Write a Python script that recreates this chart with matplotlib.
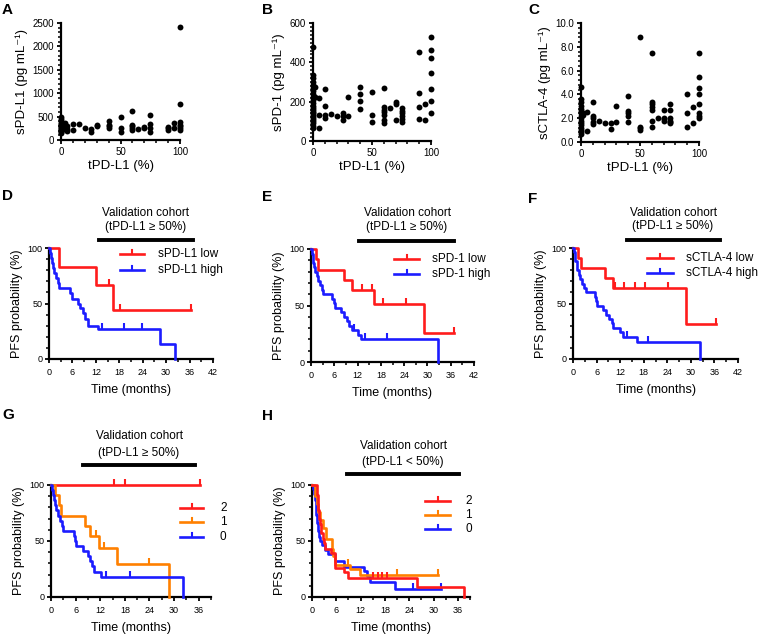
import matplotlib
matplotlib.use('Agg')
import matplotlib.pyplot as plt
from matplotlib.lines import Line2D
from matplotlib.ticker import MultipleLocator, FormatStrFormatter
import numpy as np

plt.rcParams['font.family'] = ['Liberation Sans', 'DejaVu Sans']

# ---------------- scatter data ----------------
a_x = [0]*14 + [1, 2, 3, 3, 5, 5, 5, 10, 10, 15, 20, 25, 25, 30, 30, 40, 40, 40, 40,
                50, 50, 50, 60, 60, 60, 60, 60, 65, 70, 70, 75, 75, 75, 75, 90, 90, 90,
                95, 95, 100, 100, 100, 100, 100, 100, 100]
a_y = [500, 450, 400, 370, 340, 310, 290, 270, 250, 230, 210, 190, 170, 150,
       320, 280, 360, 230, 300, 240, 200, 350, 210, 340, 260, 240, 180, 330, 290,
       400, 330, 290, 250, 490, 250, 180, 610, 330, 290, 250, 220, 240, 280, 250,
       540, 350, 250, 180, 280, 250, 220, 360, 250, 2410, 760, 390, 330, 290, 250, 215]

b_x = [0]*23 + [2, 2, 5, 5, 5, 10, 10, 10, 10, 15, 20, 25, 25, 25, 30, 30, 40, 40, 40, 40,
                50, 50, 50, 60, 60, 60, 60, 60, 60, 60, 65, 70, 70, 70, 75, 75, 75, 75, 75, 75,
                90, 90, 90, 90, 95, 95, 100, 100, 100, 100, 100, 100, 100]
b_y = [480, 335, 320, 300, 285, 270, 255, 240, 225, 210, 195, 180, 170, 160, 150, 140,
       130, 120, 110, 100, 90, 75, 65, 275, 225, 220, 130, 65, 265, 180, 130, 115, 135,
       125, 140, 125, 105, 225, 125, 275, 240, 205, 165, 250, 130, 95, 270, 175, 160,
       145, 130, 105, 90, 170, 200, 190, 105, 170, 155, 140, 125, 110, 95, 450, 245,
       175, 110, 190, 105, 530, 465, 420, 345, 265, 205, 140]

c_x = [0]*16 + [2, 2, 5, 5, 10, 10, 10, 10, 10, 15, 20, 25, 25, 30, 30, 40, 40, 40, 40, 40,
                50, 50, 50, 50, 60, 60, 60, 60, 60, 60, 60, 65, 70, 70, 70, 70, 75, 75, 75, 75,
                75, 75, 90, 90, 90, 95, 95, 100, 100, 100, 100, 100, 100, 100, 100]
c_y = [4.6, 3.6, 3.4, 3.0, 2.8, 2.6, 2.4, 2.2, 2.0, 1.8, 1.6, 1.4, 1.2, 1.0, 0.8, 0.7,
       2.4, 2.3, 2.5, 0.9, 3.4, 2.2, 2.0, 1.7, 1.5, 1.8, 1.6, 1.6, 1.1, 3.0, 1.7,
       3.9, 2.6, 2.4, 2.2, 1.7, 8.8, 1.3, 1.2, 1.0, 7.5, 3.4, 3.2, 2.9, 2.7, 1.8, 1.3,
       2.0, 2.7, 2.0, 1.9, 1.8, 3.2, 2.7, 2.0, 1.8, 1.7, 1.6, 4.0, 2.4, 1.3, 2.9, 1.6,
       7.5, 5.5, 4.5, 4.0, 3.2, 2.4, 2.2, 2.0]

# ---------------- Kaplan-Meier data (event times, survival after event, censor times) ----------------
d_low_t = [2.5, 12.0, 16.4]
d_low_s = [83.3, 66.7, 44.4]
d_low_c = [15.3, 18.2, 36.3]
d_high_t = [0.2, 0.5, 0.8, 1.1, 1.4, 1.8, 2.2, 2.6, 5.3, 5.9, 7.4, 7.9, 8.6, 9.2, 9.9, 12.5, 28.5, 32.2]
d_high_s = [95.5, 90.9, 86.4, 81.8, 77.3, 72.7, 68.2, 63.6, 59.1, 54.5, 50.0, 46.0, 41.0, 36.0, 30.0, 26.7, 13.3, 0]
d_high_c = [13.6, 19.2, 23.8]

e_low_t = [1.3, 1.9, 8.6, 10.5, 16.2, 29.0]
e_low_s = [90.9, 81.8, 72.7, 63.6, 50.9, 25.5]
e_low_c = [13.2, 15.6, 18.6, 24.5, 36.8]
e_high_t = [0.2, 0.4, 0.6, 0.9, 1.1, 1.5, 1.9, 2.3, 2.8, 3.2, 5.5, 5.9, 6.2, 7.7, 8.6, 9.2, 9.8, 10.5, 12.2, 12.8, 32.8]
e_high_s = [96, 92, 88, 84, 80, 76, 72, 68, 64, 60, 56, 52, 48, 44, 40, 36, 32, 28, 24, 20, 0]
e_high_c = [11.2, 13.9, 19.5]

f_low_t = [1.3, 1.95, 8.2, 10.1, 28.7]
f_low_s = [90.9, 81.8, 72.7, 63.6, 31.8]
f_low_c = [10.6, 13.1, 15.7, 18.2, 24.2, 36.5]
f_high_t = [0.2, 0.4, 0.6, 0.9, 1.1, 1.5, 1.9, 2.3, 2.8, 3.2, 5.7, 5.9, 6.1, 7.6, 8.4, 9.2, 9.8, 10.2, 12.0, 12.7, 16.3, 32.4]
f_high_s = [96, 92, 88, 84, 80, 76, 72, 68, 64, 60, 56, 52, 48, 44, 40, 36, 32, 28, 24, 20, 15, 0]
f_high_c = [13.8, 19.2]

g2_t = []
g2_s = []
g2_c = [15.4, 18.1, 36.2]
g1_t = [1.0, 1.9, 2.5, 8.3, 9.5, 11.8, 16.2, 28.7]
g1_s = [90.9, 81.8, 72.7, 63.6, 54.5, 43.6, 29.1, 0]
g1_c = [10.9, 12.9, 23.8]
g0_t = [0.2, 0.4, 0.7, 1.0, 1.2, 1.6, 2.1, 2.6, 3.0, 5.6, 5.9, 6.1, 7.7, 8.9, 9.4, 9.9, 10.6, 12.3, 32.1]
g0_s = [95.5, 90.9, 86.4, 81.8, 77.3, 72.7, 68.2, 63.6, 59.1, 54.5, 50.0, 45.5, 40.9, 36.4, 31.8, 27.3, 22.7, 18.2, 0]
g0_c = [13.4, 19.2]

h2_t = [1.2, 1.4, 1.6, 1.8, 2.0, 2.3, 2.6, 3.0, 3.3, 4.7, 5.7, 7.8, 8.9, 26.0, 37.6]
h2_s = [91, 83, 78, 70, 65, 57, 52, 48, 43, 39, 26, 22, 17.4, 8.7, 0]
h2_c = [15.1, 16.4, 17.4, 18.4]
h1_t = [0.8, 1.2, 1.6, 2.0, 2.7, 3.5, 4.9, 5.3, 5.7, 9.4, 11.9]
h1_s = [90, 83, 76, 69, 62, 52, 43, 37, 29, 25, 19.4]
h1_c = [9.0, 20.9, 31.1]
h0_t = [0.3, 0.5, 0.7, 0.9, 1.1, 1.3, 1.5, 1.7, 2.0, 2.5, 3.2, 4.0, 5.7, 7.8, 12.8, 13.5, 14.2, 20.5]
h0_s = [96, 92, 87, 80, 73, 66, 59, 54, 50, 46, 42, 38, 32, 27, 23, 19, 13, 7.5]
h0_c = [25.0, 31.8]

RED = '#ff1c1c'
BLUE = '#1c1cff'
ORANGE = '#ff8000'

W, H = 767, 641
fig = plt.figure(figsize=(W / 100, H / 100), dpi=100)


def fx(x):
    return x / W


def fy(y):
    return 1 - y / H


def ax_px(left, top, width, height):
    return fig.add_axes([left / W, 1 - (top + height) / H, width / W, height / H])


def style_axes(ax):
    for s in ['top', 'right']:
        ax.spines[s].set_visible(False)
    for s in ['left', 'bottom']:
        ax.spines[s].set_linewidth(1.6)
    ax.tick_params(which='major', length=3.2, width=1.3, color='black')
    ax.tick_params(which='minor', length=2.0, width=1.1, color='black')


def scatter_panel(ax, xs, ys, ymax, ymaj, ymin, ylabel, fmt=None):
    style_axes(ax)
    ax.scatter(xs, ys, s=18, color='black', clip_on=False, zorder=3, linewidths=0)
    ax.set_xlim(0, 100)
    ax.set_ylim(0, ymax)
    ax.xaxis.set_major_locator(MultipleLocator(50))
    ax.xaxis.set_minor_locator(MultipleLocator(10))
    ax.yaxis.set_major_locator(MultipleLocator(ymaj))
    ax.yaxis.set_minor_locator(MultipleLocator(ymin))
    if fmt:
        ax.yaxis.set_major_formatter(FormatStrFormatter(fmt))
    ax.tick_params(labelsize=7, pad=2)
    ax.set_xlabel('tPD-L1 (%)', fontsize=9.5, labelpad=2)
    ax.set_ylabel(ylabel, fontsize=9.5, labelpad=3)


def km_curve(ax, times, surv, cens, color, end=None):
    t = [0] + list(times)
    s = [100] + list(surv)
    last = max([0] + list(times) + list(cens))
    if end is None:
        end = last
    if s[-1] > 0:
        t.append(end)
        s.append(s[-1])
    ax.step(t, s, where='post', color=color, lw=1.9, clip_on=False, zorder=3)
    if cens:
        ts = np.array([0] + list(times))
        ss = np.array([100] + list(surv))
        cy = [ss[np.searchsorted(ts, c, side='right') - 1] for c in cens]
        ax.plot(cens, cy, linestyle='none', marker=2, markersize=4.5, mew=1.5,
                color=color, clip_on=False, zorder=3)


def km_axes(ax, xmax, xmaj_max):
    style_axes(ax)
    ax.set_xlim(0, xmax)
    ax.set_ylim(0, 100)
    ax.set_xticks(np.arange(0, xmaj_max + 1, 6))
    ax.xaxis.set_minor_locator(MultipleLocator(3))
    ax.yaxis.set_major_locator(MultipleLocator(50))
    ax.yaxis.set_minor_locator(MultipleLocator(10))
    ax.tick_params(labelsize=6.5, pad=1.5)
    ax.tick_params(axis='x', pad=3)
    ax.set_xlabel('Time (months)', fontsize=9, labelpad=5)
    ax.set_ylabel('PFS probability (%)', fontsize=9, labelpad=3)


def cohort_title(cx, y1, y2, line2, bx0, bx1, by):
    fig.text(fx(cx), fy(y1), 'Validation cohort', ha='center', va='center', fontsize=8.5)
    fig.text(fx(cx), fy(y2), line2, ha='center', va='center', fontsize=8.5)
    fig.add_artist(Line2D([fx(bx0), fx(bx1)], [fy(by), fy(by)], color='black', lw=2.8,
                          transform=fig.transFigure))


def legend_entry(x0, x1, y, color, label, tx):
    fig.add_artist(Line2D([fx(x0), fx(x1)], [fy(y), fy(y)], color=color, lw=1.9,
                          transform=fig.transFigure))
    xm = (x0 + x1) / 2
    fig.add_artist(Line2D([fx(xm), fx(xm)], [fy(y), fy(y - 4.5)], color=color, lw=1.5,
                          transform=fig.transFigure))
    fig.text(fx(tx), fy(y), label, ha='left', va='center', fontsize=8.5)


# ---------------- Scatter panels ----------------
axA = ax_px(61, 23, 119, 117)
scatter_panel(axA, a_x, a_y, 2500, 500, 100, 'sPD-L1 (pg mL⁻¹)')
axB = ax_px(313, 23, 118, 118)
scatter_panel(axB, b_x, b_y, 600, 200, 20, 'sPD-1 (pg mL⁻¹)')
axC = ax_px(581, 23, 118, 119)
scatter_panel(axC, c_x, c_y, 10, 2, 0.4, 'sCTLA-4 (pg mL⁻¹)', fmt='%.1f')

# ---------------- KM panels ----------------
axD = ax_px(49, 248, 164, 111)
km_axes(axD, 42, 42)
km_curve(axD, d_low_t, d_low_s, d_low_c, RED)
km_curve(axD, d_high_t, d_high_s, d_high_c, BLUE)
cohort_title(146, 213, 227, '(tPD-L1 ≥ 50%)', 99, 193, 240)
legend_entry(120, 144, 254, RED, 'sPD-L1 low', 158)
legend_entry(120, 144, 270, BLUE, 'sPD-L1 high', 158)

axE = ax_px(311, 249, 163, 113)
km_axes(axE, 42, 42)
km_curve(axE, e_low_t, e_low_s, e_low_c, RED)
km_curve(axE, e_high_t, e_high_s, e_high_c, BLUE)
cohort_title(407, 213, 227, '(tPD-L1 ≥ 50%)', 359, 454, 241)
legend_entry(394, 419, 259, RED, 'sPD-1 low', 432)
legend_entry(394, 419, 274, BLUE, 'sPD-1 high', 432)

axF = ax_px(573, 248, 165, 111)
km_axes(axF, 42, 42)
km_curve(axF, f_low_t, f_low_s, f_low_c, RED)
km_curve(axF, f_high_t, f_high_s, f_high_c, BLUE)
cohort_title(673, 213, 226, '(tPD-L1 ≥ 50%)', 627, 720, 240)
legend_entry(647, 673, 258, RED, 'sCTLA-4 low', 686)
legend_entry(647, 673, 273, BLUE, 'sCTLA-4 high', 686)

axG = ax_px(51, 485, 160, 112)
km_axes(axG, 39, 36)
km_curve(axG, g2_t, g2_s, g2_c, RED)
km_curve(axG, g1_t, g1_s, g1_c, ORANGE)
km_curve(axG, g0_t, g0_s, g0_c, BLUE)
cohort_title(139, 436, 453, '(tPD-L1 ≥ 50%)', 83, 195, 465)
legend_entry(180, 203, 508, RED, '2', 220)
legend_entry(180, 203, 522, ORANGE, '1', 220)
legend_entry(180, 203, 537, BLUE, '0', 220)

axH = ax_px(312, 485, 158, 112)
km_axes(axH, 39, 36)
km_curve(axH, h0_t, h0_s, h0_c, BLUE)
km_curve(axH, h1_t, h1_s, h1_c, ORANGE)
km_curve(axH, h2_t, h2_s, h2_c, RED)
cohort_title(403, 446, 462, '(tPD-L1 < 50%)', 347, 459, 474)
legend_entry(425, 450, 501, RED, '2', 465)
legend_entry(425, 450, 515, ORANGE, '1', 465)
legend_entry(425, 450, 529, BLUE, '0', 465)

# ---------------- panel letters ----------------
for letter, x, y in [('A', 2, 3), ('B', 262, 3), ('C', 528, 3), ('D', 2, 189), ('E', 262, 190),
                     ('F', 528, 192), ('G', 2, 408), ('H', 262, 409)]:
    fig.text(fx(x), fy(y), letter, ha='left', va='top', fontsize=11, fontweight='bold')

fig.savefig('out.png', dpi=100)
